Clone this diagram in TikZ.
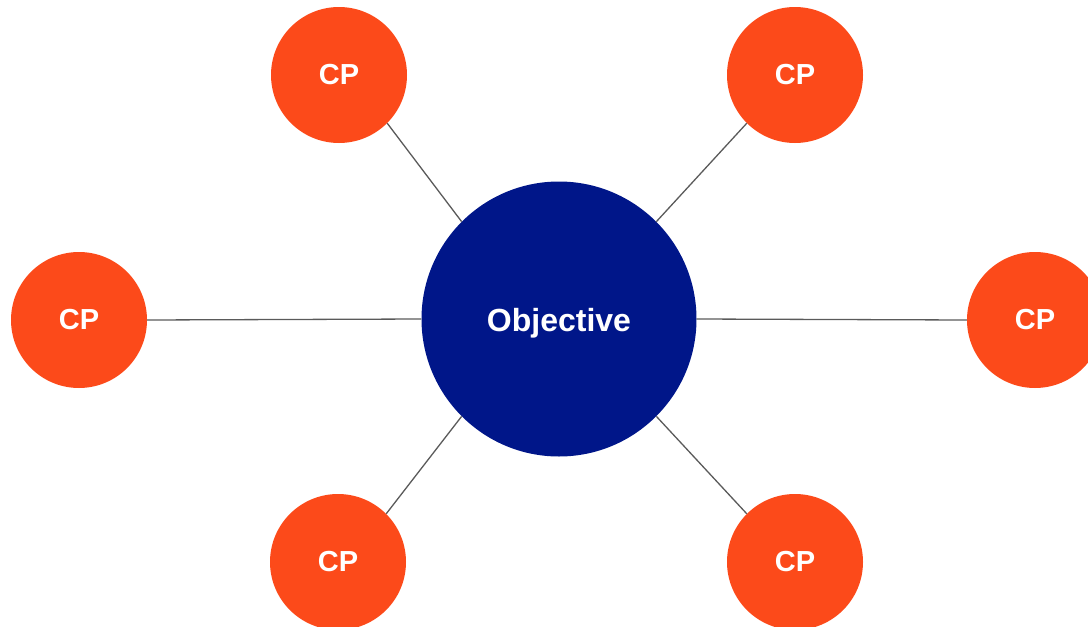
\documentclass[tikz,border=0pt]{standalone}
\usepackage{fontspec}
\setmainfont{Liberation Sans}
\definecolor{cporange}{HTML}{FC4A1A}
\definecolor{objblue}{HTML}{001689}
\definecolor{linkgray}{HTML}{5A5A5A}
\begin{document}
\begin{tikzpicture}[x=1pt,y=-1pt,
  cp/.style={circle,fill=cporange,draw=none,minimum size=136pt,inner sep=0pt,
    text=white,font=\bfseries\fontsize{29}{33}\selectfont},
  objective/.style={circle,fill=objblue,draw=none,minimum size=275pt,inner sep=0pt},
  objtext/.style={text=white,font=\bfseries\fontsize{32}{36}\selectfont,inner sep=0pt},
  link/.style={draw=linkgray,line width=1.3pt}]
\useasboundingbox (0,0) rectangle (1088,627);
\node[objective] (obj) at (559,319) {};
\node[objtext] (objlabel) at ([yshift=-4pt]obj.center) {Objective};
\node[cp] (tl) at (339,75) {CP};
\node[cp] (tr) at (795,75) {CP};
\node[cp] (l) at (79,320) {CP};
\node[cp] (r) at (1035,320) {CP};
\node[cp] (bl) at (338,562) {CP};
\node[cp] (br) at (795,562) {CP};
\draw[link] (tl.-45) -- (obj.135);
\draw[link] (tr.225) -- (obj.45);
\draw[link] (l.east) -- (obj.west);
\draw[link] (r.west) -- (obj.east);
\draw[link] (bl.45) -- (obj.225);
\draw[link] (br.135) -- (obj.-45);
\end{tikzpicture}
\end{document}
